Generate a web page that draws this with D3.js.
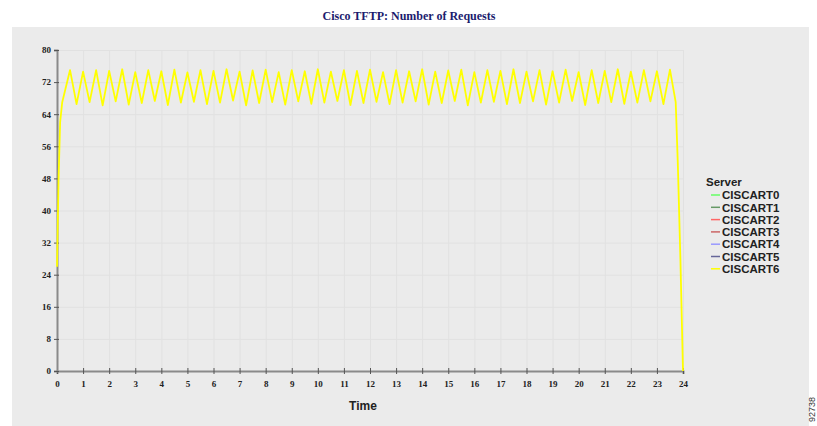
<!DOCTYPE html>
<html>
<head>
<meta charset="utf-8">
<script src="https://cdn.jsdelivr.net/npm/d3@7"></script>
<style>
  html, body { margin: 0; padding: 0; background: #ffffff; }
  svg { display: block; }
</style>
</head>
<body>
<svg id="chart" width="817" height="426"></svg>
<script>
// ---- Data ----
const title = "Cisco TFTP: Number of Requests";
const xTicks = [0,1,2,3,4,5,6,7,8,9,10,11,12,13,14,15,16,17,18,19,20,21,22,23,24];
const yTicks = [0,8,16,24,32,40,48,56,64,72,80];
const servers = ["CISCART0","CISCART1","CISCART2","CISCART3","CISCART4","CISCART5","CISCART6"];
const serverColors = ["#66ff66","#669966","#ff6666","#cc6666","#9999ff","#666699","#ffff00"];

const hours = [0,0.06,0.12,0.2,
  0.5,0.75,1,1.25,1.5,1.75,2,2.25,2.5,2.75,3,3.25,3.5,3.75,4,4.25,4.5,4.75,5,5.25,5.5,5.75,
  6,6.25,6.5,6.75,7,7.25,7.5,7.75,8,8.25,8.5,8.75,9,9.25,9.5,9.75,10,10.25,10.5,10.75,11,11.25,11.5,11.75,
  12,12.25,12.5,12.75,13,13.25,13.5,13.75,14,14.25,14.5,14.75,15,15.25,15.5,15.75,16,16.25,16.5,16.75,17,17.25,17.5,17.75,
  18,18.25,18.5,18.75,19,19.25,19.5,19.75,20,20.25,20.5,20.75,21,21.25,21.5,21.75,22,22.25,22.5,22.75,23,23.25,23.5,
  23.72,23.8,23.9,24];
const ciscart6 = [26,48,62,67,
  75,66.5,74.6,67,75,66.2,74.8,67.2,75.2,66.4,74.5,66.8,75,67.3,74.7,66.3,75.1,66.9,74.4,67.1,75,66.5,
  74.8,66.9,75.2,67.4,74.6,66.2,74.9,66.8,75.1,67,74.5,66.4,75,67.2,74.7,66.6,75.2,66.9,74.6,67.3,75,66.3,74.8,66.8,
  75.1,67.1,74.5,66.5,75,66.9,74.7,67.2,75.2,66.4,74.6,66.8,74.9,67.3,75.1,66.2,74.5,66.9,75,67.1,74.8,66.5,75.2,66.8,
  74.6,67.2,75,66.4,74.7,66.9,75.1,67.3,74.5,66.3,75,66.8,74.8,67,75.2,66.6,74.6,66.9,75,67.2,74.7,66.5,75.1,
  67,52,28,0];

// ---- Drawing ----
const svg = d3.select("#chart");

svg.append("rect").attr("x", 12).attr("y", 27).attr("width", 797).attr("height", 399)
  .attr("fill", "#ebebeb");

svg.append("text").attr("x", 409).attr("y", 20).attr("text-anchor", "middle")
  .attr("font-family", "Liberation Serif, Times New Roman, serif").attr("font-weight", "bold")
  .attr("font-size", 12).attr("fill", "#1c1c6e").text(title);

const x = d3.scaleLinear().domain([0, 24]).range([57, 683]);
const y = d3.scaleLinear().domain([0, 80]).range([371, 50]);

// grid
const grid = svg.append("g").attr("stroke", "#e1e1e1").attr("stroke-width", 1);
grid.selectAll("line.v").data(xTicks.slice(1)).join("line")
  .attr("x1", d => x(d) + 0.5).attr("x2", d => x(d) + 0.5)
  .attr("y1", y(80)).attr("y2", y(0));
grid.selectAll("line.h").data(yTicks.slice(1)).join("line")
  .attr("x1", x(0)).attr("x2", x(24))
  .attr("y1", d => y(d) + 0.5).attr("y2", d => y(d) + 0.5);

// axes
const xAxis = svg.append("g").attr("transform", `translate(0,${y(0)})`)
  .call(d3.axisBottom(x).tickValues(xTicks).tickFormat(d3.format("d")).tickSize(3).tickPadding(7));
const yAxis = svg.append("g").attr("transform", `translate(${x(0)},0)`)
  .call(d3.axisLeft(y).tickValues(yTicks).tickFormat(d3.format("d")).tickSize(3).tickPadding(3));
[xAxis, yAxis].forEach(g => {
  g.select(".domain").attr("stroke", "#8a8a8a").attr("stroke-width", 2);
  g.selectAll(".tick line").attr("stroke", "#555").attr("stroke-width", 1);
  g.selectAll(".tick text").attr("font-family", "Liberation Serif, Times New Roman, serif")
    .attr("font-weight", "bold").attr("font-size", 9).attr("fill", "#222");
});
xAxis.selectAll(".tick line").attr("y1", -3);
yAxis.selectAll(".tick line").attr("x2", 2).attr("x1", -3);

// line
const pts = hours.map((h, i) => [h, ciscart6[i]]);
svg.append("path").datum(pts)
  .attr("fill", "none").attr("stroke", serverColors[6]).attr("stroke-width", 1.8)
  .attr("stroke-linejoin", "round")
  .attr("d", d3.line().x(d => x(d[0])).y(d => y(d[1])));

// axis title
svg.append("text").attr("x", 363).attr("y", 410).attr("text-anchor", "middle")
  .attr("font-family", "Liberation Sans, Arial, sans-serif").attr("font-weight", "bold")
  .attr("font-size", 12).attr("fill", "#222").text("Time");

// legend
const leg = svg.append("g").attr("font-family", "Liberation Sans, Arial, sans-serif")
  .attr("font-weight", "bold").attr("font-size", 11.5).attr("fill", "#222");
leg.append("text").attr("x", 706).attr("y", 186).text("Server");
const rows = leg.selectAll("g.item").data(servers).join("g")
  .attr("transform", (d, i) => `translate(0,${195 + i * 12.3})`);
rows.append("line").attr("x1", 711).attr("x2", 720).attr("y1", 0).attr("y2", 0)
  .attr("stroke", (d, i) => serverColors[i]).attr("stroke-width", 1.5);
rows.append("text").attr("x", 722).attr("y", 4.2).text(d => d);

// figure id
svg.append("text").attr("transform", "translate(815,422) rotate(-90)")
  .attr("font-family", "Liberation Sans, Arial, sans-serif").attr("font-size", 9)
  .attr("fill", "#333").text("92738");
</script>
</body>
</html>
